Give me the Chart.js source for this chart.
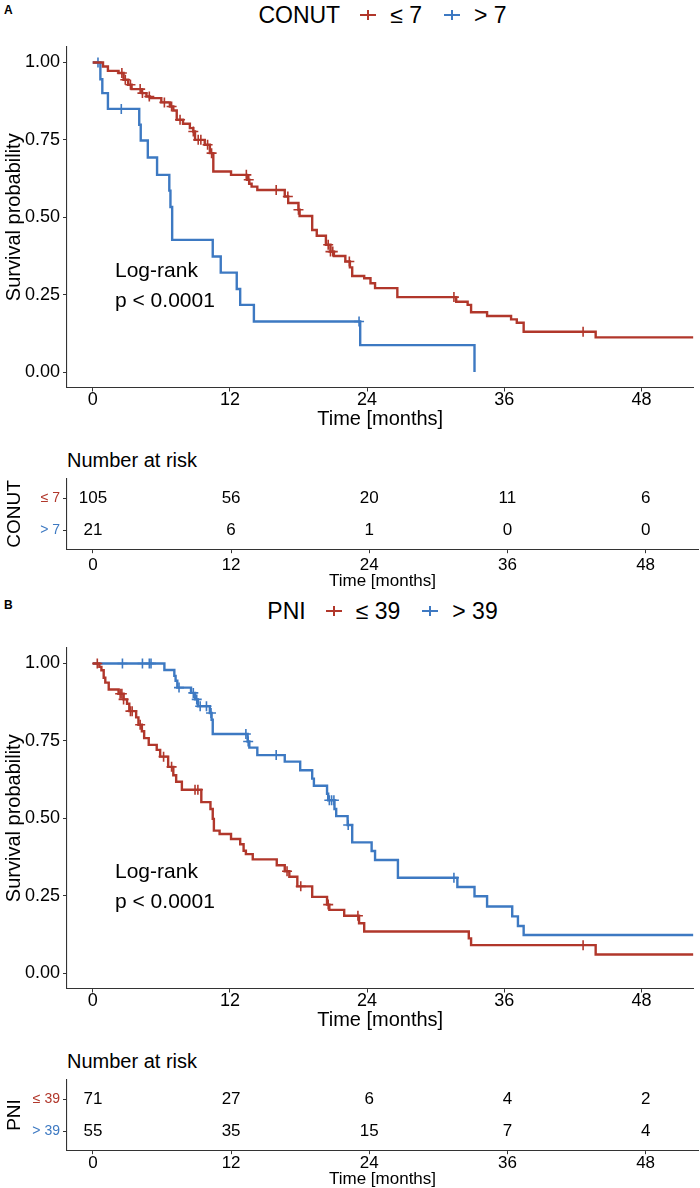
<!DOCTYPE html>
<html>
<head>
<meta charset="utf-8">
<script src="https://cdn.jsdelivr.net/npm/chart.js@4.4.0/dist/chart.umd.min.js"></script>
<style>
body { margin: 0; background: #fff; }
#page { position: relative; width: 700px; height: 1188px; overflow: hidden; font-family: "Liberation Sans", Arial, sans-serif; color: #000; }
canvas { position: absolute; left: 0; }
.tag { position: absolute; left: 4px; font-weight: bold; font-size: 12px; }
.legend { position: absolute; left: 67px; width: 631px; height: 30px; display: flex; justify-content: center; align-items: center; font-size: 23px; }
.legend .ttl { margin-right: 20px; }
.legend .lab { margin-right: 22px; }
.legend .lab:last-child { margin-right: 0; }
.key { position: relative; width: 16px; height: 2px; margin-right: 14px; }
.key:after { content: ""; position: absolute; left: 7px; top: -4px; width: 2px; height: 10px; background: inherit; }
.lr { position: absolute; left: 115px; font-size: 21px; line-height: 30px; }
.nar { position: absolute; left: 67px; font-size: 20px; line-height: 24px; }
</style>
</head>
<body>
<div id="page">
  <div class="tag" style="top:3px">A</div>
  <div class="legend" id="legA" style="top:0px"></div>
  <canvas id="kmA" width="700" height="400" style="top:40px"></canvas>
  <div class="lr" style="top:255px">Log-rank<br>p &lt; 0.0001</div>
  <div class="nar" style="top:448px">Number at risk</div>
  <canvas id="riskA" width="700" height="150" style="top:440px"></canvas>

  <div class="tag" style="top:598px">B</div>
  <div class="legend" id="legB" style="top:596px"></div>
  <canvas id="kmB" width="700" height="400" style="top:641px"></canvas>
  <div class="lr" style="top:856px">Log-rank<br>p &lt; 0.0001</div>
  <div class="nar" style="top:1049px">Number at risk</div>
  <canvas id="riskB" width="700" height="147" style="top:1041px"></canvas>
</div>
<script>
Chart.defaults.font.family = '"Liberation Sans", Arial, sans-serif';
Chart.defaults.color = "#000";

const timeTicks = [0, 12, 24, 36, 48];
const survTicks = [0, 0.25, 0.5, 0.75, 1];
const red = "#B1372B";
const blue = "#3D79C2";

// A: CONUT
const conutGroups = ["≤ 7", "> 7"];
const conutLowTime = [0, 0.9, 1.33, 2.26, 2.7, 3.1, 3.4, 4.3, 4.7, 5.0, 6.0, 6.75, 7.05, 7.35, 7.9, 8.5, 8.8, 8.95, 9.8, 10.25, 10.55, 12.1, 13.5, 13.7, 13.9, 14.4, 16.8, 17.1, 18.0, 18.1, 19.2, 19.6, 20.4, 20.8, 21.1, 22.1, 22.5, 22.7, 23.75, 24.3, 24.7, 26.65, 31.8, 32.8, 33.1, 34.5, 36.6, 37.1, 37.7, 44.0, 52.55];
const conutLowSurv = [1, 0.987, 0.973, 0.966, 0.944, 0.928, 0.914, 0.901, 0.890, 0.885, 0.871, 0.858, 0.845, 0.815, 0.802, 0.788, 0.777, 0.750, 0.734, 0.707, 0.648, 0.637, 0.621, 0.608, 0.599, 0.588, 0.567, 0.546, 0.524, 0.504, 0.459, 0.440, 0.411, 0.389, 0.375, 0.357, 0.338, 0.310, 0.303, 0.287, 0.271, 0.242, 0.227, 0.217, 0.193, 0.181, 0.170, 0.159, 0.130, 0.112, 0.112];
const conutLowCens = [2.55, 2.85, 3.3, 4.15, 4.35, 4.95, 6.27, 6.9, 7.64, 8.8, 9.23, 9.46, 10.05, 10.4, 13.44, 13.65, 16.05, 17.07, 18.0, 20.6, 20.8, 21.0, 22.45, 31.6, 42.9];
const conutHighTime = [0, 0.67, 0.84, 1.33, 4.07, 4.2, 4.82, 5.63, 6.7, 6.8, 6.95, 10.5, 11.2, 12.6, 12.9, 14.1, 23.4, 33.4];
const conutHighSurv = [1, 0.946, 0.901, 0.850, 0.799, 0.748, 0.693, 0.637, 0.586, 0.533, 0.427, 0.373, 0.321, 0.268, 0.217, 0.163, 0.087, 0];
const conutHighCens = [0.46, 2.5, 23.3];
const conutRiskLow = [105, 56, 20, 11, 6];
const conutRiskHigh = [21, 6, 1, 0, 0];

// B: PNI
const pniGroups = ["≤ 39", "> 39"];
const pniLowTime = [0, 0.58, 0.76, 0.96, 1.1, 1.4, 2.26, 2.7, 3.0, 3.2, 3.8, 4.0, 4.3, 4.5, 4.9, 5.6, 5.9, 6.6, 7.05, 7.3, 7.8, 9.5, 10.3, 10.5, 10.6, 11.1, 12.1, 12.9, 13.2, 13.4, 14.0, 16.1, 16.8, 17.2, 17.9, 19.2, 20.5, 20.7, 22.0, 23.3, 23.75, 32.9, 33.1, 44.0, 52.55];
const pniLowSurv = [1, 0.989, 0.978, 0.954, 0.938, 0.916, 0.902, 0.884, 0.870, 0.846, 0.826, 0.802, 0.781, 0.759, 0.737, 0.721, 0.699, 0.666, 0.639, 0.618, 0.592, 0.552, 0.530, 0.498, 0.460, 0.449, 0.433, 0.416, 0.395, 0.384, 0.367, 0.348, 0.329, 0.311, 0.280, 0.246, 0.221, 0.204, 0.185, 0.161, 0.134, 0.112, 0.090, 0.060, 0.060];
const pniLowCens = [0.4, 2.4, 2.55, 2.7, 3.3, 3.45, 4.15, 6.2, 6.9, 8.95, 9.2, 17.0, 18.2, 20.6, 23.2, 42.9];
const pniHighTime = [0, 6.27, 7.14, 7.25, 7.4, 8.6, 8.95, 9.2, 10.25, 10.4, 10.5, 13.55, 13.7, 14.4, 16.8, 18.15, 19.2, 19.35, 20.5, 20.6, 21.15, 21.3, 22.3, 22.7, 24.4, 24.7, 26.7, 31.9, 33.4, 34.5, 36.7, 37.2, 37.7, 52.55];
const pniHighSurv = [1, 0.979, 0.960, 0.944, 0.922, 0.905, 0.884, 0.862, 0.840, 0.818, 0.772, 0.748, 0.728, 0.704, 0.683, 0.655, 0.628, 0.605, 0.579, 0.558, 0.530, 0.507, 0.478, 0.422, 0.394, 0.365, 0.308, 0.278, 0.248, 0.215, 0.183, 0.152, 0.123, 0.123];
const pniHighCens = [2.6, 4.35, 4.95, 5.1, 7.55, 8.8, 9.1, 9.4, 9.95, 10.35, 13.4, 13.6, 16.05, 20.7, 20.9, 21.1, 22.35, 31.6];
const pniRiskLow = [71, 27, 6, 4, 2];
const pniRiskHigh = [55, 35, 15, 7, 4];

const xMin = -2.25, xMax = 52.55;

function survAt(times, surv, t) {
  let s = surv[0];
  for (let i = 0; i < times.length; i++) {
    if (times[i] <= t) s = surv[i];
  }
  return s;
}

// force axis box sizes so the panels line up like the original
function fit(size) {
  return function(scale) {
    if (scale.isHorizontal()) scale.height = size;
    else scale.width = size;
    scale.paddingTop = 0;
    scale.paddingBottom = 0;
    scale.paddingLeft = 0;
    scale.paddingRight = 0;
  };
}

function setTicks(values) {
  return function(scale) {
    scale.ticks = values.map(v => ({ value: v }));
  };
}

const axisGrid = { display: true, drawOnChartArea: false, drawTicks: true, tickLength: 4, color: "#333", lineWidth: 1 };
const axisBorder = { display: true, color: "#333", width: 1.1 };

function legend(id, name, groups) {
  let el = document.getElementById(id);
  let html = '<span class="ttl">' + name + '</span>';
  html += '<span class="key" style="background:' + red + '"></span><span class="lab">' + groups[0] + '</span>';
  html += '<span class="key" style="background:' + blue + '"></span><span class="lab">' + groups[1] + '</span>';
  el.innerHTML = html;
}

function kmChart(id, curves) {
  let datasets = [];
  curves.forEach(c => {
    datasets.push({
      data: c.time.map((t, i) => ({ x: t, y: c.surv[i] })),
      borderColor: c.color, borderWidth: 2.4, stepped: "before",
      pointRadius: 0, fill: false
    });
    datasets.push({
      data: c.cens.map(t => ({ x: t, y: survAt(c.time, c.surv, t) })),
      showLine: false, pointStyle: "cross", pointRadius: 5,
      borderColor: c.color, borderWidth: 1.6
    });
  });
  new Chart(id, {
    type: "line",
    data: { datasets: datasets },
    options: {
      animation: false, responsive: false, devicePixelRatio: 1,
      layout: { padding: { top: 7, right: 2, left: 0, bottom: 0 } },
      plugins: { legend: { display: false }, tooltip: { enabled: false } },
      scales: {
        x: {
          type: "linear", min: xMin, max: xMax,
          afterBuildTicks: setTicks(timeTicks), afterFit: fit(52.5),
          grid: axisGrid, border: axisBorder,
          ticks: { font: { size: 18, lineHeight: 1 }, padding: 0, maxRotation: 0, autoSkip: false },
          title: { display: true, text: "Time [months]", font: { size: 20 }, padding: { top: 0, bottom: 9 } }
        },
        y: {
          type: "linear", min: -0.05, max: 1.05,
          afterBuildTicks: setTicks(survTicks), afterFit: fit(67),
          grid: axisGrid, border: axisBorder,
          ticks: { font: { size: 18 }, padding: 3, callback: v => v.toFixed(2) },
          title: { display: true, text: "Survival probability", font: { size: 20 }, padding: { top: 2, bottom: 0 } }
        }
      }
    }
  });
}

const riskText = {
  id: "riskText",
  afterDatasetsDraw(chart) {
    const ctx = chart.ctx;
    ctx.save();
    ctx.font = '17px "Liberation Sans", Arial, sans-serif';
    ctx.fillStyle = "#000";
    ctx.textAlign = "center";
    ctx.textBaseline = "middle";
    chart.data.datasets.forEach((ds, i) => {
      chart.getDatasetMeta(i).data.forEach((el, j) => {
        ctx.fillText(String(ds.data[j].n), el.x, el.y);
      });
    });
    ctx.restore();
  }
};

function riskChart(id, name, groups, counts, padTop, axisHeight, tickPad) {
  const colors = [red, blue];
  new Chart(id, {
    type: "scatter",
    data: {
      datasets: counts.map((arr, g) => ({
        data: arr.map((n, i) => ({ x: timeTicks[i], y: g + 1, n: n })),
        pointRadius: 0
      }))
    },
    plugins: [riskText],
    options: {
      animation: false, responsive: false, devicePixelRatio: 1,
      layout: { padding: { top: padTop, right: 2, left: 0, bottom: 0 } },
      plugins: { legend: { display: false }, tooltip: { enabled: false } },
      scales: {
        x: {
          type: "linear", min: xMin, max: xMax,
          afterBuildTicks: setTicks(timeTicks), afterFit: fit(axisHeight),
          grid: axisGrid, border: axisBorder,
          ticks: { font: { size: 17, lineHeight: 1 }, padding: tickPad, maxRotation: 0, autoSkip: false },
          title: { display: true, text: "Time [months]", font: { size: 17, lineHeight: 1 }, padding: { top: 0, bottom: 0 } }
        },
        y: {
          type: "linear", min: 0.4, max: 2.6, reverse: true,
          afterBuildTicks: setTicks([1, 2]), afterFit: fit(67),
          grid: axisGrid, border: axisBorder,
          ticks: { font: { size: 14 }, padding: 3, color: c => colors[c.index], callback: v => groups[v - 1] },
          title: { display: true, text: name, font: { size: 19 }, padding: { top: 3, bottom: 0 } }
        }
      }
    }
  });
}

legend("legA", "CONUT", conutGroups);
kmChart("kmA", [
  { time: conutLowTime, surv: conutLowSurv, cens: conutLowCens, color: red },
  { time: conutHighTime, surv: conutHighSurv, cens: conutHighCens, color: blue }
]);
riskChart("riskA", "CONUT", conutGroups, [conutRiskLow, conutRiskHigh], 38.8, 40.8, 4);

legend("legB", "PNI", pniGroups);
kmChart("kmB", [
  { time: pniLowTime, surv: pniLowSurv, cens: pniLowCens, color: red },
  { time: pniHighTime, surv: pniHighSurv, cens: pniHighCens, color: blue }
]);
riskChart("riskB", "PNI", pniGroups, [pniRiskLow, pniRiskHigh], 38.8, 37.8, 1);
</script>
</body>
</html>
